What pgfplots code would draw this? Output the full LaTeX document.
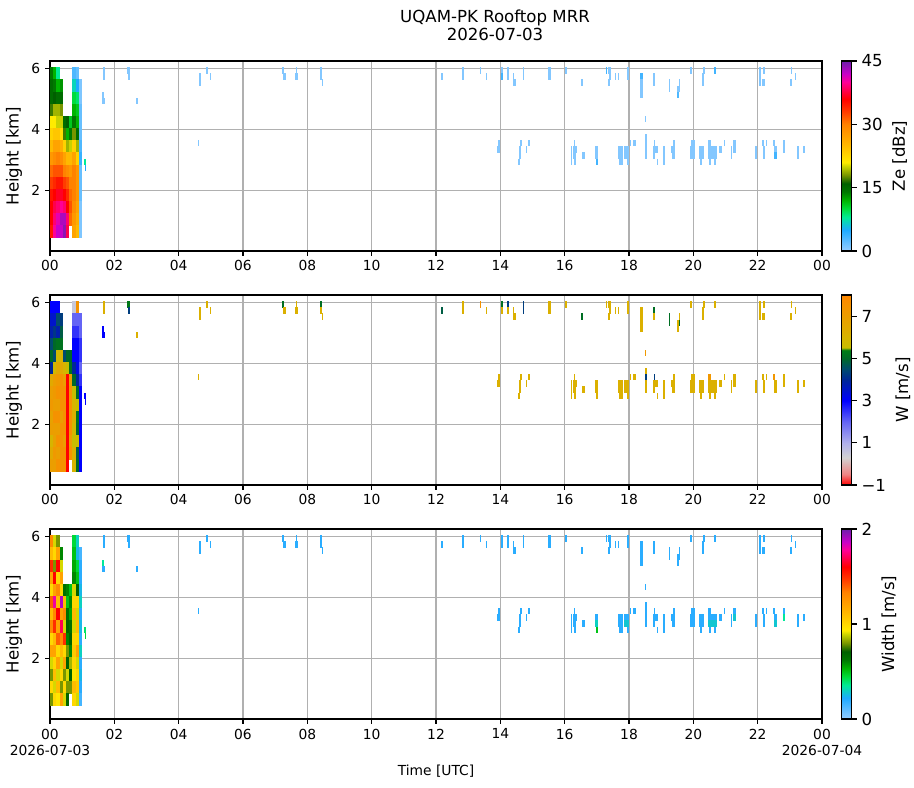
\documentclass[border=0pt]{standalone}
\usepackage{fontspec}
\setmainfont{DejaVu Sans}
\usepackage{pgfplots}
\pgfplotsset{compat=1.18}
\usepackage{pgfplotstable}
\definecolor{gridgray}{HTML}{B0B0B0}

\pgfplotsset{
  colormap={zemap}{rgb255(0cm)=(150,205,255) rgb255(5cm)=(30,170,255) rgb255(8cm)=(0,235,150) rgb255(10cm)=(0,220,60) rgb255(12cm)=(0,180,0) rgb255(14cm)=(0,120,0) rgb255(16cm)=(0,95,0) rgb255(18cm)=(120,150,0) rgb255(20cm)=(200,210,0) rgb255(21cm)=(255,235,0) rgb255(25cm)=(255,185,0) rgb255(30cm)=(255,130,0) rgb255(33cm)=(255,60,0) rgb255(36cm)=(255,0,0) rgb255(40cm)=(255,0,150) rgb255(42cm)=(200,0,200) rgb255(45cm)=(110,30,170)},
  colormap={wmap}{rgb255(0cm)=(255,0,0) rgb255(5cm)=(240,130,130) rgb255(13cm)=(210,210,210) rgb255(20cm)=(175,175,235) rgb255(30cm)=(100,100,245) rgb255(40cm)=(0,0,255) rgb255(50cm)=(0,40,150) rgb255(55cm)=(0,75,110) rgb255(60cm)=(0,105,40) rgb255(64cm)=(0,125,20) rgb255(65cm)=(200,190,0) rgb255(70cm)=(215,180,0) rgb255(90cm)=(255,135,0)},
}

\pgfdeclareplotmark{cellS}{%
  \pgfpathrectangle{\pgfpoint{-0.5*\cw pt-0.05pt}{-2.23pt}}{\pgfpoint{\cw pt+0.1pt}{4.46pt}}%
  \pgfusepathqfill}
\pgfdeclareplotmark{cellD}{%
  \pgfpathrectangle{\pgfpoint{-1.19pt}{-4.43pt}}{\pgfpoint{2.38pt}{8.86pt}}%
  \pgfusepathqfill}

\pgfplotstableread{
x y ze w sw
0.05 5.84 14 3.0 1.3
0.05 5.44 15 3.5 1.1
0.05 5.04 15 3.8 1.5
0.05 4.64 17 4.5 1.2
0.05 4.24 21 5.0 1.0
0.05 3.84 23 4.0 1.4
0.05 3.44 25 6.5 1.1
0.05 3.04 28 7.0 1.3
0.05 2.64 31 7.2 1.0
0.05 2.24 33 6.8 1.2
0.05 1.84 35 7.0 0.9
0.05 1.44 36 6.0 0.8
0.05 1.04 36 6.5 1.0
0.05 0.64 35 7.0 0.8
0.15 5.84 12 3.0 0.9
0.15 5.44 14 3.5 1.0
0.15 5.04 16 4.2 0.8
0.15 4.64 19 5.0 1.6
0.15 4.24 21 4.5 1.2
0.15 3.84 24 5.8 1.8
0.15 3.44 27 7.0 1.3
0.15 3.04 29 7.2 1.5
0.15 2.64 32 7.0 1.1
0.15 2.24 34 7.5 1.2
0.15 1.84 36 7.0 1.0
0.15 1.44 38 6.8 1.1
0.15 1.04 39 7.2 0.9
0.15 0.64 40 7.0 1.0
0.25 5.84 8 3.0 0.8
0.25 5.44 12 4.5 1.2
0.25 5.04 15 3.8 1.6
0.25 4.64 19 5.2 1.0
0.25 4.24 20 5.8 1.3
0.25 3.84 24 6.5 1.1
0.25 3.44 27 7.2 1.6
0.25 3.04 30 7.5 1.2
0.25 2.64 32 7.0 1.4
0.25 2.24 35 7.5 1.0
0.25 1.84 37 7.0 1.2
0.25 1.44 39 7.5 0.9
0.25 1.04 41 7.0 1.1
0.25 0.64 42 7.5 0.95
0.35 5.44 13 4.3 0.6
0.35 5.04 15 4.8 0.9
0.35 4.64 18 5.2 1.2
0.35 4.24 20 6.0 1.0
0.35 3.84 22 6.5 1.9
0.35 3.44 26 7.5 1.2
0.35 3.04 29 7.5 1.7
0.35 2.64 32 7.5 1.3
0.35 2.24 35 7.0 1.1
0.35 1.84 37 7.5 0.9
0.35 1.44 40 7.5 1.0
0.35 1.04 43 7.5 0.8
0.35 0.64 42 7.5 1.2
0.45 4.24 15 4.5 0.65
0.45 3.84 17 6.0 1.1
0.45 3.44 23 7.0 1.3
0.45 3.04 27 7.5 0.9
0.45 2.64 30 7.5 1.5
0.45 2.24 33 7.5 1.0
0.45 1.84 36 7.5 1.2
0.45 1.44 39 7.0 0.8
0.45 1.04 43 7.5 1.0
0.45 0.64 44 7.5 0.9
0.55 4.24 16 5.0 0.6
0.55 3.84 12 5.5 0.5
0.55 3.44 19 -1 0.65
0.55 3.04 25 -1 0.7
0.55 2.64 29 -1 0.6
0.55 2.24 32 -1 0.8
0.55 1.84 34 -1 0.7
0.55 1.44 36 -1 0.9
0.55 1.04 39 -1 0.8
0.55 0.64 38 -1 0.7
0.65 4.24 11 5.0 0.5
0.65 3.84 14 5.2 0.6
0.65 3.44 20 7.0 0.55
0.65 3.04 25 7.5 0.65
0.65 2.64 28 7.5 0.7
0.65 2.24 30 7.5 0.6
0.65 1.84 31 7.5 0.85
0.65 1.44 32 7.0 0.7
0.65 1.04 31 7.5 0.8
0.75 5.84 3 0.5 0.45
0.75 5.44 7 2.0 0.5
0.75 5.04 10 2.5 0.55
0.75 4.64 12 3.0 0.6
0.75 4.24 14 3.0 0.9
0.75 3.84 18 4.0 1.0
0.75 3.44 23 5.0 1.1
0.75 3.04 27 5.5 0.9
0.75 2.64 30 6.0 1.0
0.75 2.24 30 6.2 1.05
0.75 1.84 30 5.8 1.0
0.75 1.44 29 5.5 0.95
0.75 1.04 28 6.2 1.1
0.75 0.64 27 6.0 1.0
0.85 5.84 2 7.5 0.3
0.85 5.44 5 2.0 0.25
0.85 5.04 9 2.5 0.45
0.85 4.64 11 3.0 0.5
0.85 4.24 12 3.0 0.7
0.85 3.84 15 3.2 1.0
0.85 3.44 19 4.0 0.9
0.85 3.04 23 5.0 1.1
0.85 2.64 28 5.5 1.0
0.85 2.24 28 5.2 1.2
0.85 1.84 28 5.0 0.9
0.85 1.44 27 5.5 1.0
0.85 1.04 26 4.8 1.05
0.85 0.64 25 5.0 0.9
0.95 5.44 1 2.0 0.15
0.95 5.04 1 2.0 0.2
0.95 4.64 2 2.5 0.2
0.95 4.24 2 2.5 0.25
0.95 3.84 2 2.0 0.3
0.95 3.44 3 2.5 0.2
0.95 3.04 4 3.0 0.25
0.95 2.64 2 3.0 0.2
0.95 2.24 2 3.0 0.3
0.95 1.84 2 3.0 0.2
0.95 1.44 1 3.0 0.25
0.95 1.04 1 3.0 0.2
0.95 0.64 1 3.0 0.15
}\dense

\pgfplotstableread{
x dx y ze w sw
1.68 0.062 5.94 0.8 6.2 0.2
1.68 0.062 5.74 0.8 6.2 0.2
1.65 0.062 5.14 0.8 3.0 0.35
1.67 0.093 4.94 0.8 3.0 0.2
2.44 0.093 5.94 0.8 5.3 0.2
2.46 0.062 5.74 0.8 4.3 0.2
2.71 0.062 4.94 0.8 6.2 0.2
4.66 0.062 5.74 0.8 6.2 0.2
4.66 0.062 5.54 0.8 6.2 0.2
4.88 0.062 5.94 0.8 6.2 0.2
5.00 0.031 5.74 0.8 6.2 0.2
4.62 0.031 3.54 0.8 6.2 0.2
7.24 0.062 5.94 0.8 5.1 0.2
7.29 0.093 5.74 0.8 6.2 0.2
7.65 0.031 5.94 0.8 6.2 0.2
7.66 0.093 5.74 0.8 6.2 0.2
8.42 0.062 5.94 0.8 5.1 0.2
8.42 0.062 5.74 0.8 6.2 0.2
8.48 0.031 5.54 0.8 6.2 0.2
12.18 0.062 5.74 0.8 4.8 0.2
12.84 0.062 5.94 0.8 6.2 0.2
12.84 0.062 5.74 0.8 6.2 0.2
13.37 0.031 5.94 0.8 7.5 0.2
13.58 0.031 5.74 0.8 6.2 0.2
14.04 0.062 5.94 0.8 5.1 0.2
14.05 0.031 5.74 3.5 6.2 0.2
14.24 0.062 5.94 0.8 4.3 0.2
14.24 0.062 5.74 0.8 6.2 0.2
14.44 0.093 5.54 0.8 6.2 0.2
14.42 0.031 5.74 0.8 6.2 0.2
14.73 0.031 5.94 0.8 4.3 0.2
14.73 0.031 5.74 0.8 4.3 0.2
15.52 0.093 5.94 0.8 6.2 0.2
15.52 0.093 5.74 0.8 6.2 0.2
16.03 0.062 5.94 0.8 6.2 0.2
16.54 0.031 5.54 0.8 5.1 0.2
17.39 0.093 5.94 0.8 6.2 0.2
17.31 0.031 5.94 3.5 6.2 0.2
17.41 0.062 5.74 0.8 6.2 0.2
17.38 0.062 5.54 0.8 6.2 0.2
17.58 0.031 5.74 0.8 6.2 0.2
17.67 0.031 5.74 0.8 6.2 0.2
17.97 0.062 5.94 0.8 6.2 0.2
17.97 0.062 5.74 0.8 6.2 0.2
18.40 0.093 5.74 3.5 6.2 0.2
18.40 0.093 5.54 0.8 6.2 0.2
18.40 0.093 5.34 0.8 6.2 0.2
18.40 0.093 5.14 0.8 6.2 0.2
18.50 0.031 4.34 0.8 7.2 0.2
18.77 0.062 5.74 0.8 5.1 0.2
18.77 0.062 5.54 0.8 6.2 0.2
19.25 0.031 5.54 0.8 5.1 0.2
19.25 0.031 5.34 0.8 5.1 0.2
19.52 0.062 5.34 0.8 6.2 0.2
19.52 0.062 5.14 3.0 6.2 0.2
19.57 0.031 5.54 0.8 6.2 0.2
19.57 0.031 5.34 0.8 5.1 0.2
19.92 0.062 5.94 0.8 6.2 0.2
20.33 0.062 5.94 0.8 6.2 0.2
20.30 0.062 5.74 0.8 6.2 0.2
20.30 0.062 5.54 0.8 6.2 0.2
20.67 0.062 5.94 3.5 6.2 0.2
22.07 0.062 5.94 0.8 6.2 0.2
22.07 0.062 5.74 0.8 6.2 0.2
22.07 0.062 5.54 0.8 6.2 0.2
22.19 0.062 5.94 0.8 6.2 0.2
22.18 0.093 5.54 0.8 6.2 0.2
23.05 0.031 5.94 0.8 6.2 0.2
23.17 0.031 5.74 0.8 6.2 0.2
23.03 0.062 5.54 0.8 6.2 0.2
13.96 0.062 3.54 0.8 6.2 0.2
13.95 0.093 3.34 0.8 6.2 0.2
14.64 0.062 3.54 0.8 6.2 0.2
14.61 0.062 3.34 0.8 6.2 0.2
14.61 0.062 3.14 0.8 6.2 0.2
14.58 0.031 2.94 0.8 6.2 0.2
14.89 0.031 3.54 0.8 6.2 0.2
14.80 0.031 3.34 0.8 6.2 0.2
16.30 0.031 3.54 0.8 6.2 0.2
16.21 0.031 3.34 0.8 6.2 0.2
16.21 0.031 3.14 0.8 6.2 0.2
16.21 0.031 2.94 0.8 6.2 0.2
16.32 0.124 3.34 0.8 6.2 0.2
16.30 0.093 3.14 0.8 6.2 0.2
16.32 0.062 2.94 0.8 6.2 0.2
16.58 0.093 3.14 0.8 6.2 0.2
16.98 0.093 3.34 0.8 6.2 0.2
16.98 0.093 3.14 0.8 6.2 0.3
17.00 0.062 2.94 3.5 6.2 0.5
17.73 0.155 3.34 0.8 6.2 0.2
17.73 0.155 3.14 0.8 6.2 0.2
17.75 0.124 2.94 0.8 6.2 0.2
17.92 0.155 3.34 0.8 6.2 0.2
17.92 0.155 3.14 0.8 6.2 0.28
17.97 0.062 2.94 0.8 6.2 0.2
18.04 0.031 3.54 0.8 6.2 0.2
18.17 0.093 3.54 0.8 6.2 0.2
18.53 0.062 3.74 0.8 6.2 0.2
18.53 0.062 3.54 0.8 4.3 0.2
18.53 0.062 3.34 0.8 6.2 0.2
18.53 0.062 3.14 0.8 6.2 0.2
18.82 0.155 3.34 0.8 6.2 0.2
18.77 0.062 3.14 0.8 6.2 0.2
18.78 0.031 3.54 0.8 4.3 0.2
18.88 0.031 2.94 0.8 6.2 0.2
19.09 0.062 3.34 0.8 6.2 0.2
19.09 0.062 3.14 0.8 6.2 0.2
19.09 0.062 2.94 0.8 6.2 0.2
19.37 0.124 3.34 0.8 6.2 0.2
19.38 0.093 3.14 0.8 6.2 0.2
19.40 0.062 3.54 0.8 6.2 0.2
19.98 0.155 3.34 0.8 6.2 0.2
19.98 0.155 3.14 0.8 6.2 0.2
20.00 0.124 3.54 0.8 6.2 0.2
20.25 0.155 3.34 0.8 6.2 0.2
20.25 0.155 3.14 0.8 6.2 0.2
20.23 0.062 2.94 0.8 6.2 0.2
20.59 0.280 3.34 0.8 6.2 0.2
20.59 0.280 3.14 0.8 6.2 0.28
20.50 0.093 3.54 0.8 7.3 0.2
20.52 0.031 2.94 0.8 6.2 0.2
20.67 0.062 2.94 0.8 6.2 0.2
20.85 0.093 3.34 0.8 6.2 0.2
20.97 0.031 3.54 0.8 6.2 0.2
21.18 0.031 3.34 0.8 6.2 0.2
21.18 0.031 3.14 0.8 6.2 0.2
21.28 0.093 3.54 0.8 6.2 0.2
21.28 0.093 3.34 0.8 6.2 0.28
21.95 0.062 3.34 0.8 6.2 0.2
21.95 0.062 3.14 0.8 6.2 0.2
22.17 0.062 3.54 0.8 6.2 0.2
22.20 0.062 3.34 0.8 6.2 0.2
22.20 0.062 3.14 0.8 6.2 0.2
22.27 0.031 3.54 0.8 6.2 0.2
22.52 0.062 3.54 0.8 7.3 0.2
22.55 0.093 3.34 0.8 6.2 0.2
22.55 0.093 3.14 3.5 6.2 0.28
22.82 0.062 3.54 0.8 6.2 0.2
22.82 0.062 3.34 0.8 6.2 0.35
23.25 0.062 3.34 0.8 6.2 0.2
23.25 0.062 3.14 0.8 6.2 0.2
23.44 0.062 3.34 0.8 6.2 0.2
1.09 0.050 2.94 8 3.0 0.4
1.10 0.031 2.74 5 3.0 0.45
}\sparse

\pgfplotsset{
  mrr/.style={
    scale only axis, width=7.72in, height=1.90in, anchor=south west,
    xmin=0, xmax=24, ymin=0, ymax=6.25,
    xtick={0,2,...,24},
    xticklabels={00,02,04,06,08,10,12,14,16,18,20,22,00},
    ytick={2,4,6},
    grid=major, major grid style={draw=gridgray, line width=0.8pt},
    axis on top,
    tick pos=left, tick align=outside, major tick length=3.5pt,
    every tick/.style={black, line width=0.8pt},
    axis line style={line width=0.8pt},
    ticklabel style={font=\fontsize{10}{12}\selectfont},
    ylabel style={font=\fontsize{12}{14}\selectfont},
    ylabel={Height [km]},
    /pgf/number format/assume math mode=true,
    colorbar,
  },
  cb/.style={
    at={(parent axis.south east)}, anchor=south west, xshift=0.08in,
    scale only axis, width=0.10in, height=1.90in,
    tick align=outside, ytick pos=right, yticklabel pos=right, major tick length=3.5pt,
    every tick/.style={black, line width=0.8pt},
    axis line style={line width=0.8pt},
    ticklabel style={font=\fontsize{12}{14}\selectfont},
    ylabel near ticks, ylabel style={font=\fontsize{12}{14}\selectfont},
    /pgf/number format/assume math mode=true,
  },
  dcell/.style={scatter, only marks, mark=cellD, scatter/use mapped color={draw=mapped color, fill=mapped color}},
  scell/.style={scatter, only marks, mark=cellS, visualization depends on={23.2466*\thisrow{dx}\as\cw}, scatter/use mapped color={draw=mapped color, fill=mapped color}},
}

\begin{document}
\begin{tikzpicture}
\path[use as bounding box] (0,0) rectangle (9.14in,7.88in);
\node[font=\fontsize{12}{14}\selectfont] at (4.95in,7.70in) {UQAM-PK Rooftop MRR};
\node[font=\fontsize{12}{14}\selectfont] at (4.95in,7.54in) {2026-07-03};

\begin{axis}[mrr, at={(0.50in,5.37in)},
  colormap name=zemap, point meta min=0, point meta max=45,
  colorbar style={cb, ytick={0,15,30,45}, ylabel={Ze [dBz]}}]
\addplot[dcell, point meta=\thisrow{ze}] table[x=x, y=y] {\dense};
\addplot[scell, point meta=\thisrow{ze}] table[x=x, y=y] {\sparse};
\end{axis}

\begin{axis}[mrr, at={(0.50in,3.03in)},
  colormap name=wmap, point meta min=-1, point meta max=8,
  colorbar style={cb, ytick={-1,1,3,5,7}, yticklabels={−1,1,3,5,7}, ylabel={W [m/s]}}]
\addplot[dcell, point meta=\thisrow{w}] table[x=x, y=y] {\dense};
\addplot[scell, point meta=\thisrow{w}] table[x=x, y=y] {\sparse};
\end{axis}

\begin{axis}[mrr, at={(0.50in,0.69in)},
  colormap name=zemap, point meta min=0, point meta max=2,
  xticklabels={{00\\2026-07-03},02,04,06,08,10,12,14,16,18,20,22,{00\\2026-07-04}},
  xticklabel style={align=center},
  xlabel={Time [UTC]}, xlabel style={font=\fontsize{10}{12}\selectfont},
  colorbar style={cb, ytick={0,1,2}, ylabel={Width [m/s]}}]
\addplot[dcell, point meta=\thisrow{sw}] table[x=x, y=y] {\dense};
\addplot[scell, point meta=\thisrow{sw}] table[x=x, y=y] {\sparse};
\end{axis}
\end{tikzpicture}
\end{document}
